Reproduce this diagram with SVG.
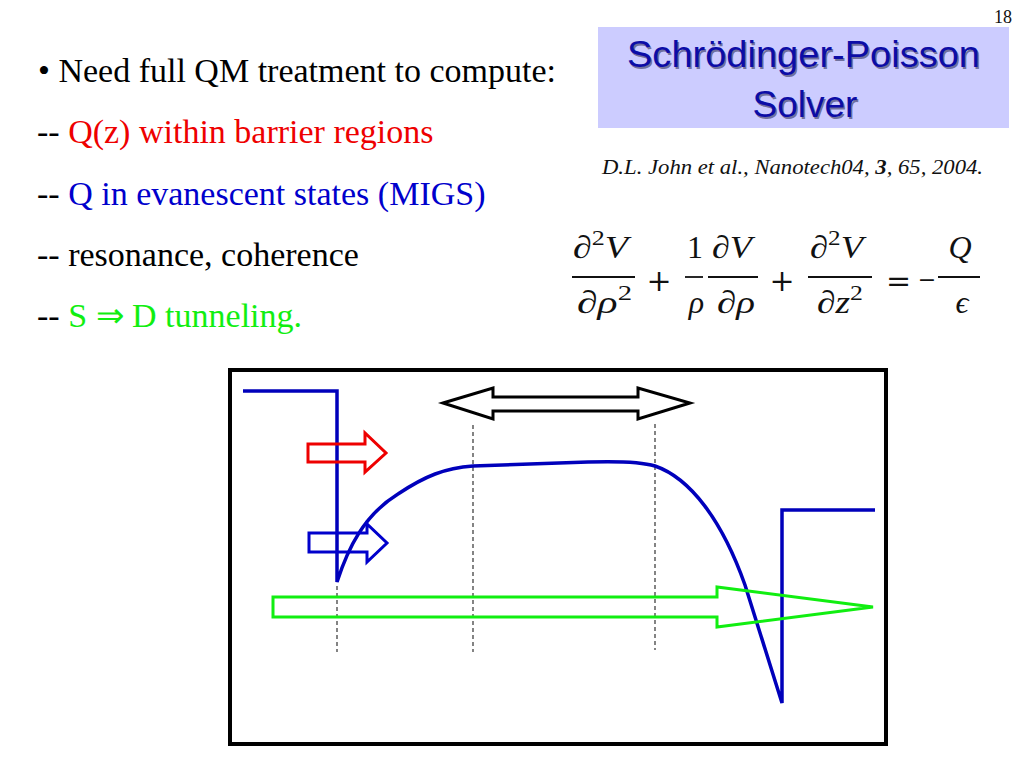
<svg xmlns="http://www.w3.org/2000/svg" width="1024" height="768" viewBox="0 0 1024 768">
<defs>
<style>
.body{font-family:"Liberation Serif","Times New Roman",serif;font-size:34px}
.eq{font-family:"Liberation Serif","Times New Roman",serif;font-size:32px;fill:#111}
.op{font-family:"DejaVu Serif","Liberation Serif",serif;font-size:30px;fill:#111}
.it{font-style:italic}
.sup{font-size:22px}
.bar{stroke:#111;stroke-width:1.8}
.title{font-family:"Liberation Sans","DejaVu Sans",sans-serif;font-size:37px;fill:#0c0ca6}
.shadow{font-family:"Liberation Sans","DejaVu Sans",sans-serif;font-size:37px;fill:#22224a;fill-opacity:0.55}
.dash{stroke:#333;stroke-width:1.2;stroke-dasharray:4 3;fill:none}
.arr{fill:none;stroke-width:3;stroke-linejoin:miter}
</style>
</defs>
<rect width="1024" height="768" fill="#ffffff"/>

<g id="page-number">
<text x="1012" y="23" text-anchor="end" style="font-family:'Liberation Serif',serif;font-size:18px" fill="#111">18</text>
</g>

<g id="bullets" class="body">
<text x="38" y="82" fill="#000">• Need full QM treatment to compute:</text>
<text x="37" y="143" fill="#000">-- <tspan fill="#ee0000">Q(z) within barrier regions</tspan></text>
<text x="37" y="205" fill="#000">-- <tspan fill="#0000cc">Q in evanescent states (MIGS)</tspan></text>
<text x="37" y="266" fill="#000">-- resonance, coherence</text>
<text x="37" y="327" fill="#000">-- <tspan fill="#11ee11">S ⇒ D tunneling.</tspan></text>
</g>

<g id="title">
<rect x="598" y="27" width="411" height="101" fill="#ccccff"/>
<text class="shadow" x="805" y="68.5" text-anchor="middle" textLength="353" lengthAdjust="spacingAndGlyphs">Schrödinger-Poisson</text>
<text class="title" x="803.5" y="67" text-anchor="middle" textLength="353" lengthAdjust="spacingAndGlyphs">Schrödinger-Poisson</text>
<text class="shadow" x="806.5" y="118.5" text-anchor="middle">Solver</text>
<text class="title" x="805" y="117" text-anchor="middle">Solver</text>
</g>

<g id="citation">
<text x="602" y="174" style="font-family:'Liberation Serif',serif;font-size:20px;font-style:italic" fill="#111" textLength="381" lengthAdjust="spacingAndGlyphs">D.L. John et al., Nanotech04, <tspan font-weight="bold">3</tspan>, 65, 2004.</text>
</g>

<g id="equation" class="eq">
<text x="573" y="258" textLength="55" lengthAdjust="spacingAndGlyphs">∂<tspan class="sup" dy="-13">2</tspan><tspan class="it" dy="13">V</tspan></text>
<line class="bar" x1="572" y1="277" x2="635" y2="277"/>
<text x="577" y="313" textLength="55" lengthAdjust="spacingAndGlyphs">∂<tspan class="it">ρ</tspan><tspan class="sup" dy="-13">2</tspan></text>
<text class="op" x="659" y="291" text-anchor="middle">+</text>
<text x="695" y="258" text-anchor="middle">1</text>
<line class="bar" x1="685" y1="277" x2="703" y2="277"/>
<text x="696.5" y="313" text-anchor="middle" class="it">ρ</text>
<text x="712" y="258" textLength="40" lengthAdjust="spacingAndGlyphs">∂<tspan class="it">V</tspan></text>
<line class="bar" x1="708" y1="277" x2="758" y2="277"/>
<text x="717" y="313" textLength="38" lengthAdjust="spacingAndGlyphs">∂<tspan class="it">ρ</tspan></text>
<text class="op" x="782" y="291" text-anchor="middle">+</text>
<text x="810" y="258" textLength="53" lengthAdjust="spacingAndGlyphs">∂<tspan class="sup" dy="-13">2</tspan><tspan class="it" dy="13">V</tspan></text>
<line class="bar" x1="808" y1="277" x2="872" y2="277"/>
<text x="817" y="313" textLength="46" lengthAdjust="spacingAndGlyphs">∂<tspan class="it">z</tspan><tspan class="sup" dy="-13">2</tspan></text>
<text class="op" x="898.5" y="291" text-anchor="middle">=</text>
<text class="op" x="927" y="287" text-anchor="middle" style="font-size:22px">−</text>
<text x="960" y="258" text-anchor="middle" class="it">Q</text>
<line class="bar" x1="938" y1="277" x2="980" y2="277"/>
<text x="962" y="313" text-anchor="middle" class="it">ϵ</text>
</g>

<g id="diagram-frame">
<rect x="230" y="370" width="656" height="374" fill="none" stroke="#000" stroke-width="4"/>
</g>

<g id="guides">
<line class="dash" x1="337" y1="586" x2="337" y2="652"/>
<line class="dash" x1="473" y1="425" x2="473" y2="652"/>
<line class="dash" x1="655" y1="424" x2="655" y2="650"/>
</g>

<g id="potential-profile">
<path d="M243,391 H337 V582 C348,548 364,515 398,494 C425,476 445,468 473,466 L588,462 C620,461 642,462 655,466 C690,478 722,520 745,585 L782,703 V510 H875" fill="none" stroke="#0000bb" stroke-width="3.5" stroke-linejoin="miter"/>
</g>

<g id="connectors">
<g id="barrier-charge-arrow">
<path class="arr" stroke="#ee0000" d="M308,444 H365 V433 L386,453 L365,472 V462 H308 Z"/>
</g>
<g id="evanescent-arrow">
<path class="arr" stroke="#0000cc" d="M309,533 H367 V524 L387,543 L367,562 V552 H309 Z"/>
</g>
<g id="tunneling-arrow">
<path class="arr" stroke="#11ee11" d="M273,597 H717 V587 L873,607 L717,627 V617 H273 Z"/>
</g>
<g id="coherence-arrow">
<path class="arr" stroke="#000" stroke-width="3.5" d="M443,403 L493,388 V397 H638 V388 L690,403 L638,419 V411 H493 V419 Z"/>
</g>
</g>
</svg>
